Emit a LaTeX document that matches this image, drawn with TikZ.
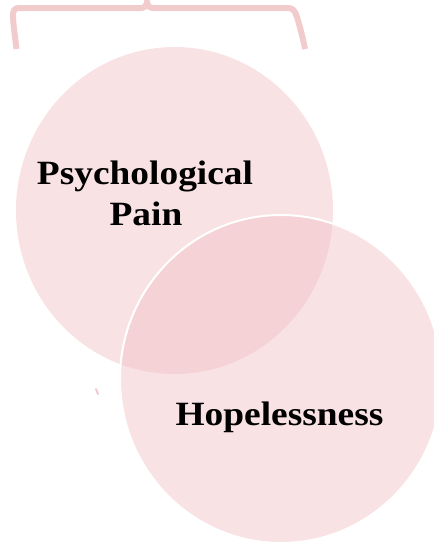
\documentclass[tikz,border=0pt]{standalone}
\usepackage{fontspec}
\newfontfamily\labfont[FakeStretch=1.1]{Liberation Serif}
\definecolor{lightpink}{HTML}{F9E2E3}
\definecolor{overlappink}{HTML}{F4D2D5}
\definecolor{bracepink}{HTML}{F2CBCC}
\tikzset{
  label text/.style={font=\labfont\bfseries\fontsize{34}{40}\selectfont, text=black, inner sep=0pt, anchor=base},
  brace line/.style={draw=bracepink, line width=6pt, line cap=butt, line join=round},
}
\begin{document}
\begin{tikzpicture}[x=1pt,y=-1pt]
\useasboundingbox (0,0) rectangle (434,547);
\clip (0,0) rectangle (434,547);
% circles
\fill[lightpink] (174.5,210.5) ellipse [x radius=158.5pt, y radius=163.5pt];
\fill[lightpink] (281,379) ellipse [x radius=161pt, y radius=164pt];
\begin{scope}
  \clip (174.5,210.5) ellipse [x radius=158.5pt, y radius=163.5pt];
  \fill[overlappink] (281,379) ellipse [x radius=161pt, y radius=164pt];
\end{scope}
\draw[white, line width=2pt] (281,379) ellipse [x radius=161pt, y radius=164pt];
% brace
\path[brace line] (16.5,49) .. controls (14.5,33) and (13,22) .. (13,15)
  .. controls (13,10) and (15,8) .. (19,8) -- (141,8)
  .. controls (145,8) and (147,5) .. (147,1.5)
  .. controls (147,5) and (149,8) .. (153,8) -- (288,8)
  .. controls (293,8) and (295,11) .. (297,17)
  .. controls (300,27) and (303,38) .. (305,49);
% small tick
\draw[bracepink, line width=2pt, line cap=round] (96,389) -- (98,394);
% labels
\node[label text] (psy) at (145,184) {Psychological};
\node[label text] (pain) at (146,225) {Pain};
\node[label text] (hope) at (279.5,425) {Hopelessness};
\end{tikzpicture}
\end{document}
